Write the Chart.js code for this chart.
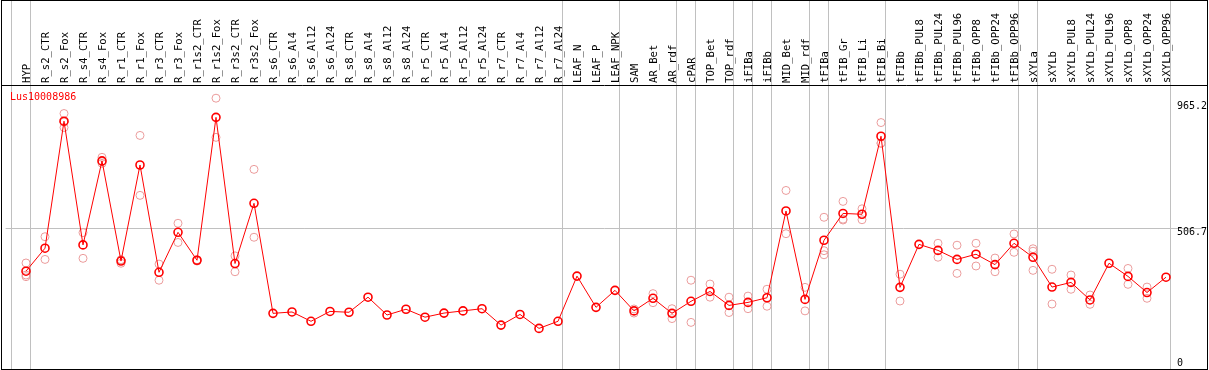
<!DOCTYPE html>
<html>
<head>
<meta charset="utf-8">
<script src="https://cdn.jsdelivr.net/npm/chart.js@4/dist/chart.umd.min.js"></script>
<style>
  html, body { margin: 0; padding: 0; background: #fff; }
  canvas { display: block; }
</style>
</head>
<body>
<canvas id="c" width="1209" height="370"></canvas>
<script>
// sample names along the top
const categories = [
  'HYP', 'R_s2_CTR', 'R_s2_Fox', 'R_s4_CTR', 'R_s4_Fox', 'R_r1_CTR', 'R_r1_Fox',
  'R_r3_CTR', 'R_r3_Fox', 'R_r1s2_CTR', 'R_r1s2_Fox', 'R_r3s2_CTR', 'R_r3s2_Fox',
  'R_s6_CTR', 'R_s6_Al4', 'R_s6_Al12', 'R_s6_Al24', 'R_s8_CTR', 'R_s8_Al4', 'R_s8_Al12',
  'R_s8_Al24', 'R_r5_CTR', 'R_r5_Al4', 'R_r5_Al12', 'R_r5_Al24', 'R_r7_CTR', 'R_r7_Al4',
  'R_r7_Al12', 'R_r7_Al24', 'LEAF_N', 'LEAF_P', 'LEAF_NPK', 'SAM', 'AR_Bet', 'AR_rdf',
  'cPAR', 'TOP_Bet', 'TOP_rdf', 'iFIBa', 'iFIBb', 'MID_Bet', 'MID_rdf', 'tFIBa',
  'tFIB_Gr', 'tFIB_Li', 'tFIB_Bi', 'tFIBb', 'tFIBb_PUL8', 'tFIBb_PUL24', 'tFIBb_PUL96',
  'tFIBb_OPP8', 'tFIBb_OPP24', 'tFIBb_OPP96', 'sXYLa', 'sXYLb', 'sXYLb_PUL8',
  'sXYLb_PUL24', 'sXYLb_PUL96', 'sXYLb_OPP8', 'sXYLb_OPP24', 'sXYLb_OPP96'
];

// mean expression per sample
const means = [
  350, 434, 898, 446, 753, 387, 738, 346, 492, 390, 912, 378, 598,
  196, 201, 167, 203, 200, 255, 190, 211, 182, 197, 205, 213, 153, 192, 141, 167,
  332, 218, 280, 205, 251, 196, 240, 276, 225, 236, 253, 570, 247, 463,
  561, 558, 843, 291, 448, 426, 393, 412, 374, 452, 401, 292, 309,
  245, 379, 331, 272, 328
];

// replicates (null = hidden under the mean)
const rep1 = [
  380, 476, 926, 491, 766, 391, 846, 376, 525, 392, 982, 406, 722,
  null, null, null, null, null, null, null, null, null, null, null, null, null, null, null, null,
  null, null, null, 212, 268, 213, 317, 303, 255, 259, 284, 645, 291, 547,
  605, 578, 893, 339, null, 452, 445, 452, 398, 486, 432, 357, 336,
  263, null, 360, 292, null
];
const rep2 = [
  336, 393, 875, 397, 744, 379, 627, 317, 455, 387, 839, 348, 474,
  null, null, null, null, null, null, null, null, null, null, null, null, null, null, null, null,
  null, null, null, 197, 235, 177, 163, 255, 199, 213, 222, 487, 205, 425,
  540, 538, 817, 241, null, 401, 342, 369, 348, 419, 423, 230, 284,
  229, null, 302, 251, null
];
const rep3 = [
  330, null, 895, null, 750, 392, null, null, null, null, null, null, null,
  null, null, null, null, null, null, null, null, null, null, null, null, null, null, null, null,
  null, null, null, null, null, null, null, null, null, null, null, null, null, 410,
  537, null, 818, null, null, null, null, null, null, null, 353, null, null,
  null, null, null, null, null
];

const yTicks = [0, 506.7, 965.2];
// last sample index of each group, a grey line follows each
const groupEnds = [-1, 0, 28, 31, 34, 35, 37, 38, 39, 41, 42, 45, 52, 53, 60];
const geneName = 'Lus10008986';

const RED = '#ff0000';
const PINK = '#eb9c9c';
const GREY = '#c0c0c0';
const MONO = "'DejaVu Sans Mono', 'Liberation Mono', monospace";

const meanPts = means.map((v, i) => ({ x: i, y: v }));
const repPts = [];
[rep1, rep2, rep3].forEach(arr => arr.forEach((v, i) => {
  if (v !== null) repPts.push({ x: i, y: v });
}));

const framePlugin = {
  id: 'frame',
  beforeDatasetsDraw(chart) {
    const ctx = chart.ctx, xs = chart.scales.x;
    ctx.save();
    ctx.strokeStyle = GREY;
    ctx.lineWidth = 1;
    groupEnds.forEach(g => {
      const px = Math.floor(xs.getPixelForValue(g + 0.24)) + 0.5;
      ctx.beginPath();
      ctx.moveTo(px, 0);
      ctx.lineTo(px, 369);
      ctx.stroke();
    });
    ctx.restore();
  },
  afterDraw(chart) {
    const ctx = chart.ctx, ys = chart.scales.y;
    ctx.save();
    // outer box and header line
    ctx.strokeStyle = '#000';
    ctx.lineWidth = 1;
    ctx.strokeRect(1.5, 0.5, 1206, 369);
    ctx.beginPath();
    ctx.moveTo(1, 85.5);
    ctx.lineTo(1208, 85.5);
    ctx.stroke();

    // value labels in the right column
    ctx.font = '10px ' + MONO;
    ctx.fillStyle = '#000';
    ctx.textAlign = 'left';
    yTicks.forEach(v => {
      const py = ys.getPixelForValue(v);
      if (v === 0) {
        ctx.textBaseline = 'bottom';
        ctx.fillText(String(v), 1177, py + 1);
      } else {
        ctx.textBaseline = 'top';
        ctx.fillText(v.toFixed(1), 1177, py - 1);
      }
    });

    // gene name
    ctx.fillStyle = RED;
    ctx.textBaseline = 'middle';
    ctx.fillText(geneName, 10, 97);
    ctx.restore();
  }
};

const chart = new Chart(document.getElementById('c'), {
  type: 'line',
  data: {
    datasets: [
      {
        data: meanPts,
        borderColor: RED,
        borderWidth: 1,
        pointRadius: 4,
        pointBorderWidth: 1.6,
        pointBorderColor: RED,
        pointBackgroundColor: 'rgba(0,0,0,0)',
        tension: 0
      },
      {
        data: repPts,
        showLine: false,
        pointRadius: 4,
        pointBorderWidth: 1,
        pointBorderColor: PINK,
        pointBackgroundColor: 'rgba(0,0,0,0)'
      }
    ]
  },
  options: {
    responsive: false,
    animation: false,
    devicePixelRatio: 1,
    events: [],
    layout: { padding: { left: 1, right: 2, top: 0, bottom: 1 } },
    plugins: { legend: { display: false }, tooltip: { enabled: false } },
    scales: {
      x: {
        type: 'linear',
        position: 'top',
        min: -1.3158,
        max: 62.158,
        afterBuildTicks: s => { s.ticks = categories.map((_, i) => ({ value: i })); },
        afterFit: s => { s.height = 85; },
        grid: { display: false, drawTicks: false },
        border: { display: false },
        ticks: {
          autoSkip: false,
          minRotation: 90,
          maxRotation: 90,
          padding: 2,
          labelOffset: 14,
          color: '#000',
          font: { family: MONO, size: 10.6 },
          callback: v => categories[v]
        }
      },
      y: {
        type: 'linear',
        position: 'right',
        min: -7.31,
        max: 1030.2,
        afterBuildTicks: s => { s.ticks = yTicks.map(v => ({ value: v })); },
        grid: {
          drawTicks: false,
          color: c => (c.tick && c.tick.value === 506.7) ? GREY : 'rgba(0,0,0,0)'
        },
        border: { display: false },
        ticks: { display: false }
      }
    }
  },
  plugins: [framePlugin]
});

// fit scale bounds to the actual plot area: sample i at 26 + 19*i px, value 0 at y=367, 0.27373 px per unit
for (let pass = 0; pass < 2; pass++) {
  const a = chart.chartArea;
  chart.options.scales.x.min = -(26 - a.left) / 19;
  chart.options.scales.x.max = 60 + (a.right - 1166) / 19;
  chart.options.scales.y.min = -(a.bottom - 367) / 0.27373;
  chart.options.scales.y.max = (367 - a.top) / 0.27373;
  chart.update();
}
</script>
</body>
</html>
